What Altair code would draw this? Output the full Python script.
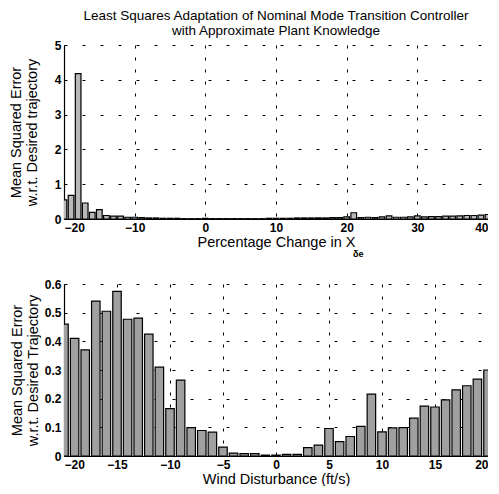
import altair as alt
import pandas as pd

# Top panel: percentage change in X_de
top_x = list(range(-20, 41))
top_mse = [0.55, 0.68, 4.18, 0.46, 0.19, 0.27, 0.10, 0.08, 0.08, 0.05,
           0.05, 0.04, 0.03, 0.03, 0.02, 0.02, 0.02, 0.01, 0.01, 0.01,
           0.02, 0.01, 0.01, 0.01, 0.01, 0.01, 0.01, 0.01, 0.01, 0.02,
           0.02, 0.02, 0.02, 0.03, 0.03, 0.03, 0.03, 0.03, 0.04, 0.04,
           0.06, 0.18, 0.04, 0.05, 0.04, 0.06, 0.09, 0.05, 0.05, 0.06,
           0.09, 0.06, 0.07, 0.07, 0.08, 0.08, 0.09, 0.10, 0.10, 0.11,
           0.13]

# Bottom panel: wind disturbance (ft/s)
bot_x = list(range(-20, 21))
bot_mse = [0.46, 0.41, 0.37, 0.54, 0.505, 0.574, 0.477, 0.481, 0.425, 0.31,
           0.165, 0.265, 0.099, 0.089, 0.083, 0.031, 0.01, 0.008, 0.008, 0.003,
           0.003, 0.006, 0.006, 0.029, 0.038, 0.096, 0.05, 0.068, 0.103, 0.216,
           0.084, 0.098, 0.099, 0.132, 0.174, 0.171, 0.196, 0.231, 0.245, 0.268,
           0.30]

FONT = "Liberation Sans"

top_df = pd.DataFrame({"x": top_x, "mse": top_mse})
bot_df = pd.DataFrame({"x": bot_x, "mse": bot_mse})

def panel(df, xdom, xticks, ydom, yticks, xtitle, ytitle, fill, ytp, h, title=None, yfmt=".0f"):
    base = alt.Chart(df).transform_calculate(
        x0="datum.x - 0.4", x1="datum.x + 0.4"
    )
    bars = base.mark_bar(fill=fill, stroke="black", strokeWidth=1.2, clip=True).encode(
        x=alt.X("x0:Q", scale=alt.Scale(domain=xdom, nice=False),
                axis=alt.Axis(values=xticks, title=xtitle, format="d",
                              gridDash=[3, 9])),
        x2="x1:Q",
        y=alt.Y("mse:Q", scale=alt.Scale(domain=ydom, nice=False),
                axis=alt.Axis(values=yticks, title=ytitle, format=yfmt,
                              gridDash=[3, 15], titlePadding=ytp)),
        y2=alt.datum(0),
    )
    props = dict(width=424, height=h)
    if title is not None:
        props["title"] = title
    return bars.properties(**props)

top = panel(top_df, [-20, 40], [-20, -10, 0, 10, 20, 30, 40], [0, 5], [0, 1, 2, 3, 4, 5],
            "Percentage Change in X  ",
            ["Mean Squared Error", "w.r.t. Desired trajectory"], "#b8b8b8", 15, 174,
            title=alt.TitleParams(["Least Squares Adaptation of Nominal Mode Transition Controller",
                                   "with Approximate Plant Knowledge"],
                                  anchor="middle", fontSize=13.5, font=FONT,
                                  fontWeight="normal", offset=2, lineHeight=15))

sub = alt.Chart(pd.DataFrame({"t": ["δe"]})).mark_text(
    font=FONT, fontSize=9, fontWeight="bold", align="left", baseline="top"
).encode(text="t:N", x=alt.value(289), y=alt.value(205))

top = alt.layer(top, sub)

bot = panel(bot_df, [-20, 20], [-20, -15, -10, -5, 0, 5, 10, 15, 20], [0, 0.6],
            [0, 0.1, 0.2, 0.3, 0.4, 0.5, 0.6],
            "Wind Disturbance (ft/s)",
            ["Mean Squared Error", "w.r.t. Desired Trajectory"], "#a0a0a0", 4, 172, yfmt="~g")

chart = alt.vconcat(top, bot, spacing=19).properties(
    padding={"left": 0, "top": 0, "right": 0, "bottom": 0}
).configure_view(stroke=None).configure_axis(
    labelFont=FONT, labelFontSize=12, labelFontWeight="bold", labelColor="black",
    titleFont=FONT, titleFontSize=14.5, titleFontWeight="normal", titleColor="black",
    domainColor="black", domainWidth=1.2, ticks=False, labelPadding=3,
    grid=True, gridColor="black", gridWidth=1, gridOpacity=1,
).configure_axisY(titleLineHeight=16).configure_axisX(titlePadding=2)

chart.save("out.html", embed_options={"renderer": "svg", "actions": False})
